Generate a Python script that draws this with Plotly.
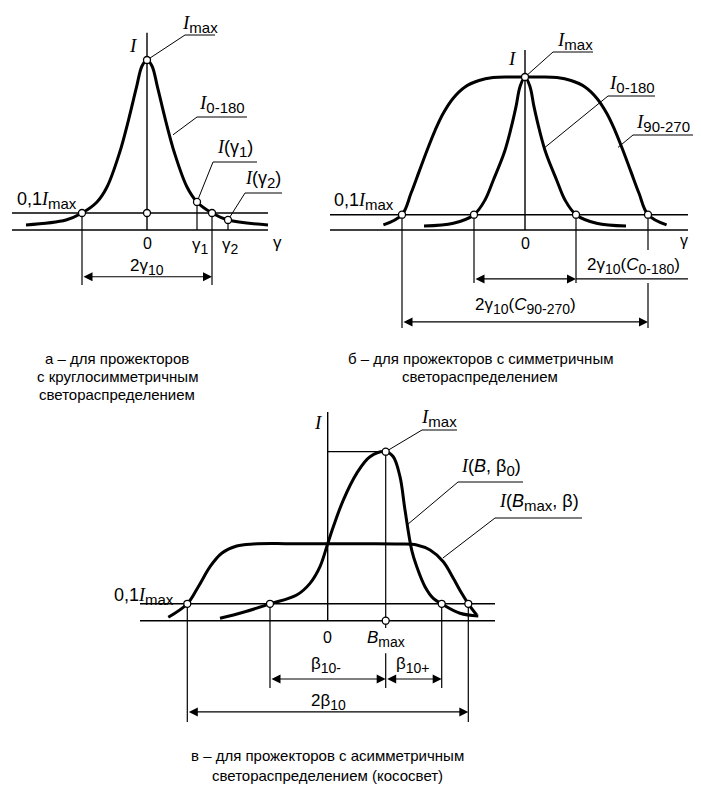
import plotly.graph_objects as go

W, H = 701, 785

# ---------------- panel a: round-symmetric distribution ----------------
gamma_a = [-24.2, -16.2, -13.0, -10.0, -8.0, -5.5, -3.7, -2.1, -1.0, 0.0,
           1.0, 2.1, 3.7, 5.5, 8.0, 10.0, 13.0, 16.2, 24.2]
I_a = [0.030, 0.059, 0.100, 0.165, 0.253, 0.453, 0.647, 0.840, 0.965, 1.000,
       0.965, 0.840, 0.647, 0.453, 0.253, 0.165, 0.100, 0.059, 0.030]
gamma10_a = 13.0
gamma_marks_a = [10.0, 16.2]      # γ1, γ2
I_marks_a = [0.165, 0.059]        # I(γ1), I(γ2)

# ---------------- panel b: symmetric distribution ----------------
gamma_b_0180 = [-50.5, -35.8, -25.5, -20.0, -15.8, -10.5, -7.2, -4.5, -2.5, 0.0,
                2.5, 4.5, 7.2, 10.5, 15.8, 20.0, 25.5, 35.8, 50.5]
I_b_0180 = [0.026, 0.044, 0.100, 0.196, 0.327, 0.501, 0.654, 0.806, 0.937, 1.000,
            0.937, 0.806, 0.654, 0.501, 0.327, 0.196, 0.100, 0.044, 0.026]
gamma_b_90270 = [-70.8, -61.5, -57.0, -53.0, -49.0, -45.0, -41.0, -36.0, -30.0, -23.0, -16.0, -8.0, 0.0,
                 8.0, 16.0, 23.0, 30.0, 36.0, 41.0, 45.0, 49.0, 53.0, 57.0, 61.5, 70.8]
I_b_90270 = [0.033, 0.100, 0.240, 0.380, 0.520, 0.650, 0.760, 0.860, 0.935, 0.977, 0.996, 1.000, 1.000,
             1.000, 0.996, 0.977, 0.935, 0.860, 0.760, 0.650, 0.520, 0.380, 0.240, 0.100, 0.033]
gamma10_b_0180 = 25.5
gamma10_b_90270 = 61.5

# ---------------- panel c: asymmetric distribution ----------------
beta_c_wide = [-79.7, -70.2, -64.7, -58.8, -53.0, -45.5, -37.2, -20.0, 0.0, 20.0,
               36.2, 44.5, 51.2, 57.8, 62.8, 67.0, 70.3, 74.5]
I_c_wide = [0.020, 0.100, 0.201, 0.320, 0.399, 0.442, 0.454, 0.456, 0.456, 0.456,
            0.454, 0.448, 0.418, 0.349, 0.251, 0.162, 0.100, 0.034]
beta_c_narrow = [-53.85, -42.2, -28.85, -15.5, -8.85, -3.85, 0.0, 2.8, 7.8, 14.5, 21.15,
                 29.0, 32.8, 36.15, 38.65, 42.0, 44.5, 48.65, 52.8, 57.0, 66.15, 75.3]
I_c_narrow = [0.014, 0.050, 0.100, 0.152, 0.221, 0.320, 0.456, 0.556, 0.714, 0.872, 0.970,
              1.000, 0.970, 0.852, 0.655, 0.418, 0.320, 0.201, 0.132, 0.100, 0.044, 0.028]
B_max = 29.0
beta10_minus_edge = -28.85
beta10_plus_edge = 57.0
beta10_wide_edges = [-70.2, 70.3]

LEVEL = 0.1      # 0,1 Imax

# ---------------- panel placement (pixel scale of each panel) ----------------
PANEL = {
    'a': dict(x0=147.0, sx=5.0, y0=230.0, sy=170.0, xa='x2', ya='y2'),
    'b': dict(x0=525.0, sx=2.0, y0=230.0, sy=153.0, xa='x3', ya='y3'),
    'c': dict(x0=327.7, sx=2.0, y0=620.7, sy=169.0, xa='x4', ya='y4'),
}

SANS = "Liberation Sans"
SERIF = "Liberation Serif"
IT = '<span style="font-family:%s"><i>I</i></span>' % SERIF
SUBL = 15     # subscript size for curve labels
SUBS = 14     # subscript size for axis / dimension labels


def sub(s, size=SUBL):
    return '<sub><span style="font-size:%dpx">%s</span></sub>' % (size, s)


fig = go.Figure()


def to_px(p, x, y):
    c = PANEL[p]
    return c['x0'] + c['sx'] * x, c['y0'] - c['sy'] * y


def seg(p, xs, ys, w=1.4):
    c = PANEL[p]
    fig.add_trace(go.Scatter(x=xs, y=ys, mode='lines', line=dict(color='black', width=w),
                             xaxis=c['xa'], yaxis=c['ya'], hoverinfo='skip', showlegend=False))


def curve(p, xs, ys):
    c = PANEL[p]
    fig.add_trace(go.Scatter(x=xs, y=ys, mode='lines',
                             line=dict(color='black', width=3.0, shape='spline', smoothing=1.0),
                             xaxis=c['xa'], yaxis=c['ya'], hoverinfo='skip', showlegend=False))


def dots(p, xs, ys):
    c = PANEL[p]
    fig.add_trace(go.Scatter(x=xs, y=ys, mode='markers',
                             marker=dict(symbol='circle', size=7, color='white',
                                         line=dict(color='black', width=1.3)),
                             xaxis=c['xa'], yaxis=c['ya'], hoverinfo='skip', showlegend=False))


def dim_arrow(p, xa0, xa1, y):
    c = PANEL[p]
    fig.add_annotation(x=xa1, y=y, ax=xa0, ay=y, xref=c['xa'], yref=c['ya'],
                       axref=c['xa'], ayref=c['ya'], text='', showarrow=True,
                       arrowhead=2, startarrowhead=2, arrowside='end+start',
                       arrowsize=1.5, startarrowsize=1.5, arrowwidth=1.2,
                       arrowcolor='black', standoff=0, startstandoff=0,
                       font=dict(family=SANS, size=12, color='black'))


def label(x, y, text, size=18, xanchor='center'):
    fig.add_annotation(x=x, y=y, xref='x', yref='y', text=text, showarrow=False,
                       xanchor=xanchor, yanchor='middle',
                       font=dict(family=SANS, size=size, color='black'))


def leader(p, xd, yd, lx, ly, ux1):
    sx, sy = to_px(p, xd, yd)
    fig.add_trace(go.Scatter(x=[sx, lx, ux1], y=[sy, ly, ly], mode='lines',
                             line=dict(color='black', width=1.0),
                             xaxis='x', yaxis='y', hoverinfo='skip', showlegend=False))


# ================= panel a =================
seg('a', [-27, 24.2], [0, 0])
seg('a', [-27, 24.2], [LEVEL, LEVEL])
seg('a', [0, 0], [0, 1.16])
for g, iv in zip(gamma_marks_a, I_marks_a):
    seg('a', [g, g], [iv, 0], w=1.2)
for g in (-gamma10_a, gamma10_a):
    seg('a', [g, g], [LEVEL, -0.324], w=1.2)
curve('a', gamma_a, I_a)
dim_arrow('a', -gamma10_a, gamma10_a, -0.275)
dots('a', [-gamma10_a, 0, 0, gamma_marks_a[0], gamma10_a, gamma_marks_a[1]],
     [LEVEL, LEVEL, 1.0, I_marks_a[0], LEVEL, I_marks_a[1]])

leader('a', 0, 1.0, 185, 35, 215)
leader('a', 5.2, 0.56, 197, 117, 247)
leader('a', gamma_marks_a[0], I_marks_a[0], 213, 162, 257)
leader('a', gamma_marks_a[1], I_marks_a[1], 245, 193, 282)

label(133, 45, IT, size=19)
label(200, 24, IT + sub('max'), size=19)
label(222, 104, IT + sub('0-180'), size=19)
label(235, 148, IT + '(γ' + sub('1') + ')', size=18)
label(263, 179, IT + '(γ' + sub('2') + ')', size=18)
label(79, 200, '0,1' + IT + sub('max'), size=18, xanchor='right')
label(147, 243, '0', size=16)
label(200, 246, 'γ' + sub('1', SUBS), size=17)
label(230, 246, 'γ' + sub('2', SUBS), size=17)
label(277, 242, 'γ', size=17)
label(147, 267, '2γ' + sub('10', SUBS), size=17)

# ================= panel b =================
seg('b', [-97.5, 81.5], [0, 0])
seg('b', [-97.5, 81.5], [LEVEL, LEVEL])
seg('b', [0, 0], [0, 1.176])
seg('b', [-gamma10_b_90270] * 2, [LEVEL, -0.64], w=1.2)
seg('b', [-gamma10_b_0180] * 2, [LEVEL, -0.346], w=1.2)
seg('b', [gamma10_b_0180] * 2, [LEVEL, -0.346], w=1.2)
seg('b', [gamma10_b_90270] * 2, [LEVEL, -0.131], w=1.2)
seg('b', [gamma10_b_90270] * 2, [-0.346, -0.64], w=1.2)
seg('b', [gamma10_b_0180, 81.5], [-0.32, -0.32], w=1.2)
curve('b', gamma_b_90270, I_b_90270)
curve('b', gamma_b_0180, I_b_0180)
dim_arrow('b', -gamma10_b_0180, gamma10_b_0180, -0.32)
dim_arrow('b', -gamma10_b_90270, gamma10_b_90270, -0.601)
dots('b', [-gamma10_b_90270, -gamma10_b_0180, gamma10_b_0180, gamma10_b_90270, 0],
     [LEVEL, LEVEL, LEVEL, LEVEL, 1.0])

leader('b', 0, 1.0, 553, 52, 593)
leader('b', 10.0, 0.54, 608, 96, 655)
leader('b', 46.5, 0.54, 633, 135, 693)

label(512, 58, IT, size=19)
label(575, 41, IT + sub('max'), size=19)
label(632, 84, IT + sub('0-180'), size=19)
label(663, 123, IT + sub('90-270'), size=19)
label(396, 201, '0,1' + IT + sub('max'), size=18, xanchor='right')
label(525, 243, '0', size=16)
label(684, 240, 'γ', size=16)
label(633, 266, '2γ' + sub('10', SUBS) + '(<i>C</i>' + sub('0-180', SUBS) + ')', size=17)
label(525, 306, '2γ' + sub('10', SUBS) + '(<i>C</i>' + sub('90-270', SUBS) + ')', size=17)

# ================= panel c =================
seg('c', [-93.85, 83.65], [0, 0])
seg('c', [-93.85, 83.65], [LEVEL, LEVEL])
seg('c', [0, 0], [0, 1.235])
seg('c', [0, B_max], [1.0, 1.0], w=1.2)
seg('c', [B_max, B_max], [1.0, -0.043], w=1.2)
seg('c', [B_max, B_max], [-0.192, -0.398], w=1.2)
for b in beta10_wide_edges:
    seg('c', [b, b], [LEVEL, -0.60], w=1.2)
for b in (beta10_minus_edge, beta10_plus_edge):
    seg('c', [b, b], [LEVEL, -0.398], w=1.2)
curve('c', beta_c_wide, I_c_wide)
curve('c', beta_c_narrow, I_c_narrow)
dim_arrow('c', beta10_minus_edge, B_max, -0.345)
dim_arrow('c', B_max, beta10_plus_edge, -0.345)
dim_arrow('c', beta10_wide_edges[0], beta10_wide_edges[1], -0.54)
dots('c', [beta10_wide_edges[0], beta10_minus_edge, beta10_plus_edge, beta10_wide_edges[1], B_max, B_max],
     [LEVEL, LEVEL, LEVEL, LEVEL, 1.0, 0.0])

leader('c', B_max, 1.0, 422, 430, 457)
leader('c', 39.6, 0.566, 458, 482, 523)
leader('c', 57.6, 0.371, 495, 518, 582)

label(318, 422, IT, size=19)
label(439, 418, IT + sub('max'), size=19)
label(491, 467, IT + '(<i>B</i>, β' + sub('0') + ')', size=18)
label(539, 502, IT + '(<i>B</i>' + sub('max') + ', β)', size=18)
label(176, 596, '0,1' + IT + sub('max'), size=18, xanchor='right')
label(327, 637, '0', size=16)
label(386, 639, '<i>B</i>' + sub('max', SUBS), size=17)
label(326, 665, 'β' + sub('10-', SUBS), size=17)
label(413, 665, 'β' + sub('10+', SUBS), size=17)
label(328, 702, '2β' + sub('10', SUBS), size=17)

# ================= captions =================
label(117, 358, 'а – для прожекторов', size=15)
label(117, 376, 'с круглосимметричным', size=15)
label(117, 394, 'светораспределением', size=15)
label(480, 358, 'б – для прожекторов с симметричным', size=15)
label(480, 376, 'светораспределением', size=15)
label(327, 755, 'в – для прожекторов с асимметричным', size=15)
label(327, 775, 'светораспределением (кососвет)', size=15)

# ================= axes =================
def rng(p):
    c = PANEL[p]
    xr = [(0 - c['x0']) / c['sx'], (W - c['x0']) / c['sx']]
    yr = [(c['y0'] - H) / c['sy'], c['y0'] / c['sy']]
    return xr, yr


hidden = dict(visible=False, showgrid=False, zeroline=False, fixedrange=True)
layout_axes = dict(
    xaxis=dict(range=[0, W], domain=[0, 1], **hidden),
    yaxis=dict(range=[H, 0], domain=[0, 1], **hidden),
)
for p, n in (('a', 2), ('b', 3), ('c', 4)):
    xr, yr = rng(p)
    layout_axes['xaxis%d' % n] = dict(range=xr, overlaying='x', anchor='y%d' % n, **hidden)
    layout_axes['yaxis%d' % n] = dict(range=yr, overlaying='y', anchor='x%d' % n, **hidden)

fig.update_layout(
    width=W, height=H, autosize=False,
    margin=dict(l=0, r=0, t=0, b=0, pad=0),
    paper_bgcolor='white', plot_bgcolor='white',
    showlegend=False,
    font=dict(family=SANS, size=15, color='black'),
    **layout_axes,
)

fig.write_html("out.html", config={'displayModeBar': False},
               post_script="document.body.style.margin='0';")
